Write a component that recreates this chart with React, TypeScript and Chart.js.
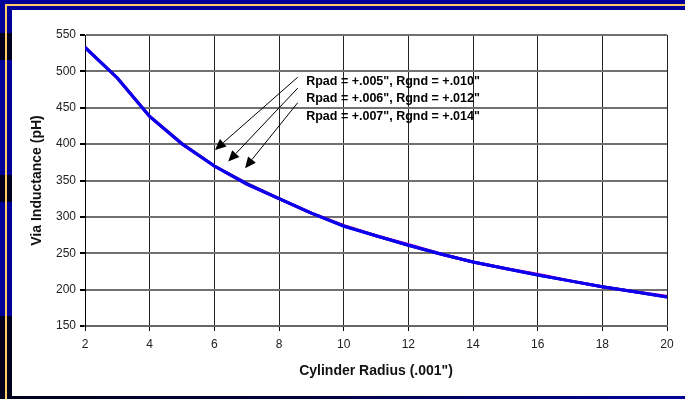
import React, { useEffect, useRef } from "react";
import { Chart, registerables } from "chart.js";

Chart.register(...registerables);

// Cylinder radius in thousandths of an inch
const radius = [2, 3, 4, 5, 6, 7, 8, 9, 10, 11, 12, 13, 14, 15, 16, 17, 18, 19, 20];

// Via inductance (pH) for the three pad / ground clearance combinations
const pad005gnd010 = [533, 491, 438, 400, 370, 345, 325, 305, 288, 274, 262, 249, 238, 229, 221, 212, 204, 197, 191];
const pad006gnd012 = [533, 491, 438, 401, 370, 346, 325, 305, 288, 274, 261, 249, 238, 229, 220, 212, 204, 197, 190];
const pad007gnd014 = [533, 491, 438, 400, 370, 345, 325, 305, 287, 274, 261, 249, 238, 229, 220, 212, 204, 197, 190];

const seriesLabels = [
  'Rpad = +.005", Rgnd = +.010"',
  'Rpad = +.006", Rgnd = +.012"',
  'Rpad = +.007", Rgnd = +.014"',
];

// Callout anchors in data units: text position, arrow tail and arrow head
const labelX = [8.84, 8.84, 8.84];
const labelY = [486, 463, 438];
const arrowFromX = [8.58, 8.58, 8.58];
const arrowFromY = [492, 477, 457];
const arrowToX = [6.02, 6.43, 6.95];
const arrowToY = [392, 376, 367];

const FONT = '"Liberation Sans", Arial, sans-serif';

const framePlugin = {
  id: "frame",
  beforeDraw(chart: any) {
    const { ctx, width, height } = chart;
    ctx.save();
    ctx.fillStyle = "#000099";
    ctx.fillRect(0, 0, width, height);
    ctx.fillStyle = "#00001c";
    ctx.fillRect(0, 33, 12, 27);
    ctx.fillRect(0, 175, 12, 27);
    ctx.fillRect(0, 316, 12, height - 316);
    const g = ctx.createLinearGradient(0, 0, width, 0);
    g.addColorStop(0, "#00001c");
    g.addColorStop(0.45, "#000040");
    g.addColorStop(1, "#000099");
    ctx.fillStyle = g;
    ctx.fillRect(0, 396, width, height - 396);
    ctx.fillStyle = "#ffcc66";
    ctx.fillRect(5, 4, width - 5, 2);
    ctx.fillRect(5, 4, 2, height - 4);
    ctx.fillStyle = "#ffffff";
    ctx.fillRect(12, 10, width - 12, 386);
    ctx.restore();
  },
};

const calloutPlugin = {
  id: "callouts",
  afterDatasetsDraw(chart: any) {
    const { ctx } = chart;
    const xs = chart.scales.x;
    const ys = chart.scales.y;
    ctx.save();
    ctx.strokeStyle = "#000";
    ctx.fillStyle = "#000";
    ctx.lineWidth = 1;
    for (let i = 0; i < arrowFromX.length; i++) {
      const x0 = xs.getPixelForValue(arrowFromX[i]);
      const y0 = ys.getPixelForValue(arrowFromY[i]);
      const x1 = xs.getPixelForValue(arrowToX[i]);
      const y1 = ys.getPixelForValue(arrowToY[i]);
      const a = Math.atan2(y1 - y0, x1 - x0);
      const len = 11;
      const hw = 5;
      const bx = x1 - len * Math.cos(a);
      const by = y1 - len * Math.sin(a);
      ctx.beginPath();
      ctx.moveTo(x0, y0);
      ctx.lineTo(bx, by);
      ctx.stroke();
      ctx.beginPath();
      ctx.moveTo(x1, y1);
      ctx.lineTo(bx + hw * Math.sin(a), by - hw * Math.cos(a));
      ctx.lineTo(bx - hw * Math.sin(a), by + hw * Math.cos(a));
      ctx.closePath();
      ctx.fill();
    }
    ctx.font = `bold 12.5px ${FONT}`;
    ctx.textBaseline = "middle";
    ctx.textAlign = "left";
    for (let i = 0; i < seriesLabels.length; i++) {
      ctx.fillText(seriesLabels[i], xs.getPixelForValue(labelX[i]), ys.getPixelForValue(labelY[i]));
    }
    ctx.restore();
  },
};

export default function App() {
  const ref = useRef<HTMLCanvasElement | null>(null);

  useEffect(() => {
    if (!ref.current) return;
    const toPoints = (vals: number[]) => radius.map((r, i) => ({ x: r, y: vals[i] }));
    // the first dataset is painted last, so the blue curve sits on top
    const chart = new Chart(ref.current, {
      type: "line",
      data: {
        datasets: [
          { label: seriesLabels[2], data: toPoints(pad007gnd014), borderColor: "#0a00f0", borderWidth: 3 },
          { label: seriesLabels[1], data: toPoints(pad006gnd012), borderColor: "#3300aa", borderWidth: 3 },
          { label: seriesLabels[0], data: toPoints(pad005gnd010), borderColor: "#cc00cc", borderWidth: 3 },
        ].map((d) => ({ ...d, pointRadius: 0, tension: 0, fill: false })),
      },
      options: {
        responsive: false,
        animation: false,
        layout: { padding: { top: 35, right: 18, left: 0, bottom: 0 } },
        plugins: { legend: { display: false }, tooltip: { enabled: false } },
        scales: {
          x: {
            type: "linear",
            min: 2,
            max: 20,
            afterFit: (s: any) => { s.height = 73; },
            ticks: { stepSize: 2, padding: 6, color: "#222", font: { family: FONT, size: 12 } },
            grid: { color: "#222", lineWidth: 1, tickLength: 5, tickColor: "#000" },
            border: { color: "#666", width: 2 },
            title: {
              display: true,
              text: 'Cylinder Radius (.001")',
              color: "#111",
              font: { family: FONT, size: 14, weight: "bold" },
              padding: { top: 0, bottom: 19 },
            },
          },
          y: {
            min: 150,
            max: 550,
            afterFit: (s: any) => { s.width = 85; },
            ticks: { stepSize: 50, padding: 4, color: "#222", font: { family: FONT, size: 12 } },
            grid: { color: "#707070", lineWidth: 2, tickLength: 5, tickColor: "#000" },
            border: { color: "#000", width: 1 },
            title: {
              display: true,
              text: "Via Inductance (pH)",
              color: "#111",
              font: { family: FONT, size: 14, weight: "bold" },
              padding: { top: 29, bottom: 0 },
            },
          },
        },
      },
      plugins: [framePlugin, calloutPlugin],
    });
    return () => chart.destroy();
  }, []);

  return (
    <div style={{ position: "absolute", left: 0, top: 0, width: 685, height: 399 }}>
      <canvas ref={ref} width={685} height={399} />
    </div>
  );
}
